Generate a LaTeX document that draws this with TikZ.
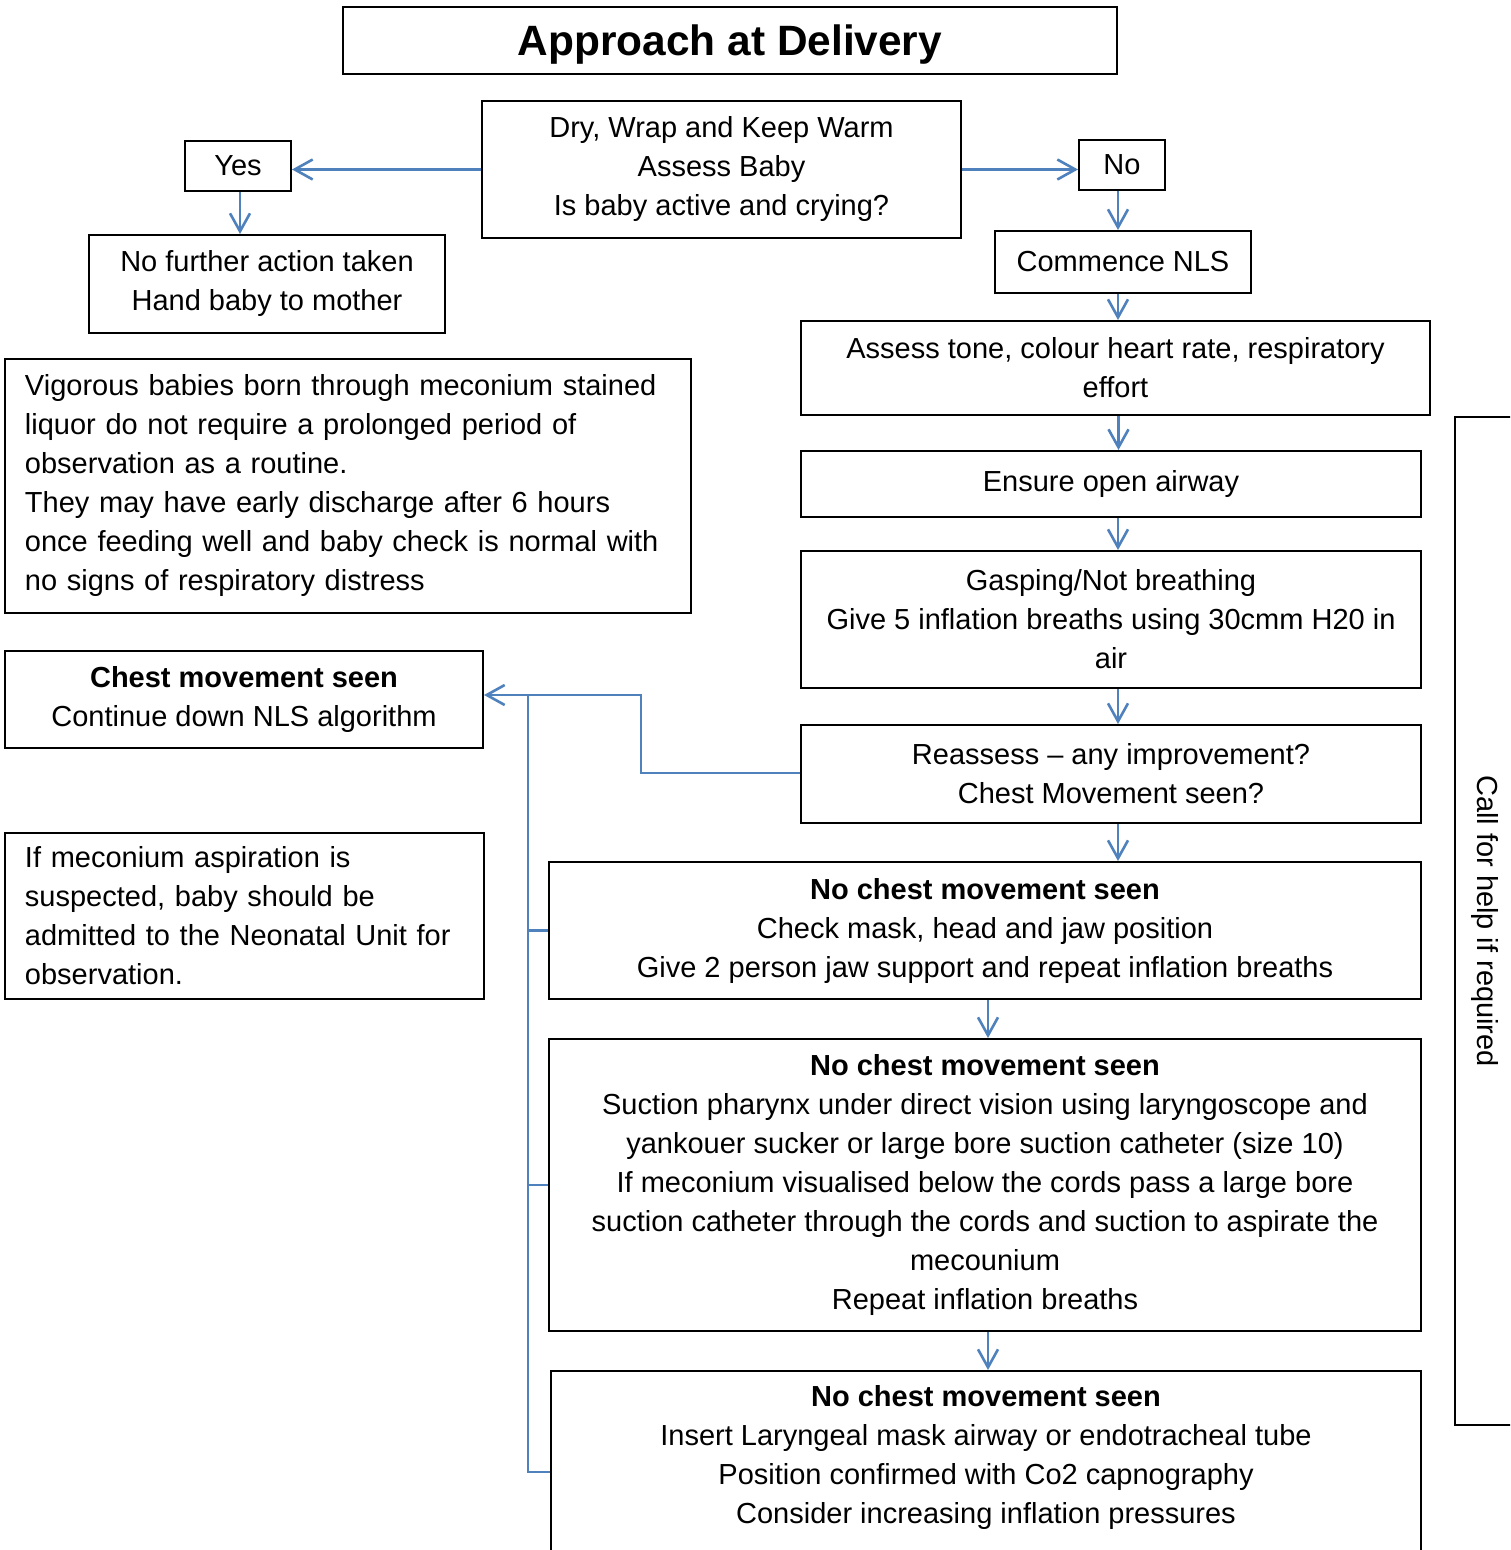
\documentclass[tikz,border=0pt]{standalone}
\usepackage{fontspec}
\setmainfont{Liberation Sans}
\usetikzlibrary{arrows.meta}
\definecolor{flowblue}{HTML}{4F81BD}

\begin{document}
\begin{tikzpicture}[x=0.5pt, y=-0.5pt,
	box/.style={draw, line width=1pt, align=center, inner sep=0pt, font=\fontsize{14.5}{19.5}\selectfont},
	leftbox/.style={box, align=left, inner xsep=10pt},
	flow/.style={flowblue, line width=1.3pt},
	arr/.style={flow, -{Straight Barb[length=9pt,width=10pt]}}]
	\useasboundingbox (0,0) rectangle (1510,1550);
	\clip (0,0) rectangle (1510,1550);
	% title
	\node[box, minimum width=387pt, minimum height=33.5pt, text depth=0pt, font=\fontsize{21.2}{25}\selectfont\bfseries] (title) at (730,40.5) {Approach at Delivery};
	% first assessment
	\node[box, minimum width=239.5pt, minimum height=68.5pt] (dry) at (721.5,169.5) {Dry, Wrap and Keep Warm\\Assess Baby\\Is baby active and crying?};
	\node[box, minimum width=53pt, minimum height=25pt] (yes) at (238,166) {Yes};
	\node[box, minimum width=43pt, minimum height=25pt] (no) at (1122,165) {No};
	\node[box, minimum width=178pt, minimum height=49pt] (nofurther) at (267,284) {No further action taken\\Hand baby to mother};
	\node[box, minimum width=128pt, minimum height=31pt] (commence) at (1123,262) {Commence NLS};
	% notes on the left
	\node[leftbox, text width=323pt, minimum height=127pt] (vigorous) at (348,486) {Vigorous babies born through meconium stained\\liquor do not require a prolonged period of\\observation as a routine.\\They may have early discharge after 6 hours\\once feeding well and baby check is normal with\\no signs of respiratory distress};
	\node[box, minimum width=239pt, minimum height=48.5pt] (chestseen) at (244,699.5) {\textbf{Chest movement seen}\\Continue down NLS algorithm};
	\node[leftbox, text width=219.5pt, minimum height=83pt] (meconium) at (244.5,916) {If meconium aspiration is\\suspected, baby should be\\admitted to the Neonatal Unit for\\observation.};
	% NLS steps
	\node[box, minimum width=314.5pt, minimum height=47pt] (assess) at (1115.5,368) {Assess tone, colour heart rate, respiratory\\effort};
	\node[box, minimum width=310pt, minimum height=33pt] (airway) at (1111,484) {Ensure open airway};
	\node[box, minimum width=310pt, minimum height=68.5pt] (gasping) at (1111,619.5) {Gasping/Not breathing\\Give 5 inflation breaths using 30cmm H20 in\\air};
	\node[box, minimum width=310pt, minimum height=49pt] (reassess) at (1111,774) {Reassess – any improvement?\\Chest Movement seen?};
	\node[box, minimum width=436pt, minimum height=68.5pt] (nochestA) at (985,930.5) {\textbf{No chest movement seen}\\Check mask, head and jaw position\\Give 2 person jaw support and repeat inflation breaths};
	\node[box, minimum width=436pt, minimum height=146pt] (nochestB) at (985,1185) {\textbf{No chest movement seen}\\Suction pharynx under direct vision using laryngoscope and\\yankouer sucker or large bore suction catheter (size 10)\\If meconium visualised below the cords pass a large bore\\suction catheter through the cords and suction to aspirate the\\mecounium\\Repeat inflation breaths};
	\node[box, minimum width=435pt, minimum height=101pt, text depth=17.5pt] (nochestC) at (986,1472) {\textbf{No chest movement seen}\\Insert Laryngeal mask airway or endotracheal tube\\Position confirmed with Co2 capnography\\Consider increasing inflation pressures};
	\node[box, rotate=-90, minimum width=504pt, minimum height=29.5pt] (callhelp) at (1484.5,921) {Call for help if required};
	% connectors
	\draw[arr] (dry.west) -- (dry.west -| yes.east);
	\draw[arr] (dry.east) -- (dry.east -| no.west);
	\draw[arr] ([xshift=1pt]yes.south) -- ([xshift=1pt]yes.south |- nofurther.north);
	\draw[arr] ([xshift=-2pt]no.south) -- ([xshift=-2pt]no.south |- commence.north);
	\draw[arr] ([xshift=-2.5pt]commence.south) -- ([xshift=-2.5pt]commence.south |- assess.north);
	\draw[arr] ([xshift=1.5pt]assess.south) -- ([xshift=1.5pt]assess.south |- airway.north);
	\draw[arr] ([xshift=3.5pt]airway.south) -- ([xshift=3.5pt]gasping.north);
	\draw[arr] ([xshift=3.5pt]gasping.south) -- ([xshift=3.5pt]reassess.north);
	\draw[arr] ([xshift=3.5pt]reassess.south) -- ([xshift=3.5pt]reassess.south |- nochestA.north);
	\draw[arr] ([xshift=1.5pt]nochestA.south) -- ([xshift=1.5pt]nochestB.north);
	\draw[arr] ([xshift=1.5pt]nochestB.south) -- ([xshift=1.5pt]nochestB.south |- nochestC.north);
	\draw[arr] ([yshift=0.5pt]reassess.west) -- ++(-159,0) |- ([yshift=2.25pt]chestseen.east);
	\coordinate (bus) at ([xshift=22pt,yshift=2.25pt]chestseen.east);
	\draw[flow] (nochestA.west) -| (bus);
	\draw[flow] (nochestB.west) -| (bus);
	\draw[flow] (nochestC.west) -| (bus);
\end{tikzpicture}
\end{document}
